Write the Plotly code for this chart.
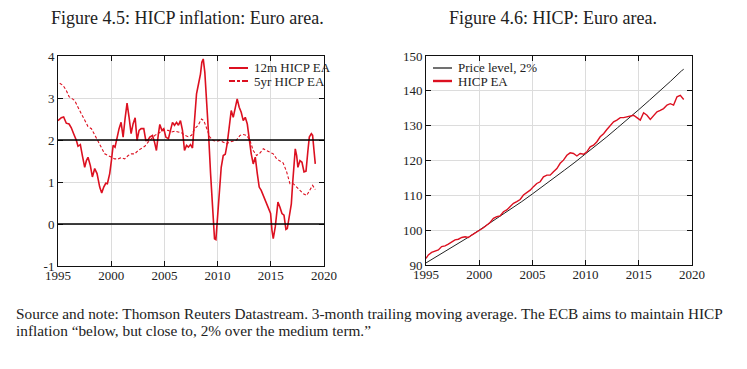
import plotly.graph_objects as go

# ---- Figure 4.5 data: HICP inflation, euro area (%) ----
yr_12m = [1995.00,1995.31,1995.53,1995.78,1996.04,1996.25,1996.47,1996.73,1996.88,1997.10,
          1997.29,1997.51,1997.67,1997.82,1998.04,1998.23,1998.45,1998.67,1998.92,1999.11,
          1999.30,1999.49,1999.64,1999.86,2000.02,2000.18,2000.36,2000.55,2000.74,2000.93,
          2001.12,2001.30,2001.49,2001.68,2001.87,2002.06,2002.25,2002.43,2002.62,2002.81,
          2003.06,2003.25,2003.44,2003.63,2003.88,2004.07,2004.25,2004.44,2004.57,2004.76,
          2004.94,2005.13,2005.38,2005.57,2005.76,2005.95,2006.14,2006.32,2006.51,2006.70,
          2006.89,2007.08,2007.26,2007.45,2007.64,2007.83,2008.02,2008.21,2008.39,2008.52,
          2008.65,2008.80,2008.96,2009.15,2009.34,2009.52,2009.71,2009.84,2009.99,2010.15,
          2010.34,2010.53,2010.72,2010.90,2011.09,2011.28,2011.47,2011.66,2011.84,2012.03,
          2012.22,2012.41,2012.60,2012.79,2012.97,2013.16,2013.35,2013.54,2013.73,2013.91,
          2014.10,2014.29,2014.48,2014.67,2014.86,2014.98,2015.11,2015.23,2015.42,2015.55,
          2015.67,2015.86,2016.05,2016.24,2016.42,2016.55,2016.74,2016.93,2017.05,2017.18,
          2017.30,2017.43,2017.55,2017.74,2017.93,2018.12,2018.31,2018.49,2018.62,2018.81,
          2018.93,2019.06,2019.18]
hicp_12m = [2.46,2.53,2.55,2.40,2.38,2.29,2.15,1.99,1.85,1.89,
            1.63,1.35,1.51,1.59,1.39,1.12,1.32,1.20,0.88,0.74,
            0.88,0.97,0.96,1.20,1.51,1.87,1.83,2.07,2.27,2.42,
            2.07,2.50,2.88,2.54,2.15,2.39,2.53,1.99,2.23,2.27,
            2.27,1.99,1.99,2.07,2.11,1.95,1.75,2.15,2.37,2.23,
            2.27,2.07,2.03,2.23,2.42,2.35,2.42,2.35,2.46,2.23,
            1.75,1.87,1.83,1.89,1.81,2.46,3.10,3.34,3.57,3.85,
            3.93,3.61,3.02,2.15,1.20,0.40,-0.35,-0.37,0.17,0.80,
            1.35,1.63,1.66,1.91,2.27,2.70,2.54,2.78,2.98,2.78,
            2.66,2.46,2.54,2.38,1.99,1.67,1.43,1.59,1.20,0.88,
            0.80,0.68,0.56,0.44,0.32,0.25,-0.15,-0.35,-0.07,0.32,
            0.52,0.40,0.25,0.21,-0.13,-0.11,0.17,0.48,0.96,1.51,
            1.79,1.63,1.35,1.51,1.47,1.24,1.26,1.75,2.07,2.15,
            2.11,1.75,1.43]

yr_5y = [1995.16,1995.47,1995.78,1996.04,1996.35,1996.57,1996.88,1997.20,1997.51,1997.82,
         1998.14,1998.45,1998.76,1999.08,1999.39,1999.71,2000.02,2000.33,2000.65,2000.96,
         2001.27,2001.59,2001.90,2002.21,2002.53,2002.84,2003.16,2003.47,2003.78,2004.10,
         2004.41,2004.72,2005.04,2005.35,2005.66,2005.98,2006.29,2006.61,2006.92,2007.23,
         2007.55,2007.86,2008.17,2008.49,2008.71,2008.96,2009.27,2009.59,2009.90,2010.21,
         2010.53,2010.84,2011.15,2011.47,2011.78,2012.10,2012.41,2012.72,2013.04,2013.35,
         2013.66,2013.98,2014.29,2014.60,2014.92,2015.23,2015.55,2015.86,2016.17,2016.49,
         2016.80,2017.11,2017.43,2017.74,2018.06,2018.37,2018.68,2018.93,2019.18]
hicp_5y = [3.35,3.30,3.18,3.03,2.98,2.94,2.78,2.61,2.46,2.32,
           2.27,2.13,1.99,1.81,1.67,1.63,1.59,1.55,1.55,1.58,
           1.55,1.63,1.67,1.67,1.75,1.79,1.85,1.95,2.03,2.11,
           2.15,2.21,2.24,2.23,2.19,2.21,2.19,2.17,2.11,2.08,
           2.11,2.27,2.35,2.50,2.46,2.27,2.07,1.99,1.97,1.99,
           1.95,1.91,1.95,1.97,2.00,2.11,2.13,2.11,1.99,1.75,
           1.63,1.69,1.79,1.75,1.71,1.67,1.55,1.50,1.45,1.24,
           0.96,0.96,0.88,0.78,0.72,0.68,0.80,0.92,0.82]

# ---- Figure 4.6 data: HICP index level ----
yr_price = [1995,1996,1997,1998,1999,2000,2001,2002,2003,2004,2005,2006,2007,
            2008,2009,2010,2011,2012,2013,2014,2015,2016,2017,2018,2019,2019.22]
price_2pct = [90.6,92.4,94.2,96.1,98.0,100.0,102.0,104.0,106.1,108.2,110.4,112.6,114.9,
              117.2,119.5,121.9,124.3,126.8,129.4,131.9,134.6,137.3,140.0,142.8,145.7,146.2]

yr_hicp = [1995.00,1995.22,1995.53,1995.85,1996.16,1996.47,1996.79,1997.10,1997.42,1997.73,
           1998.04,1998.36,1998.67,1998.98,1999.30,1999.61,1999.99,2000.40,2000.71,2001.02,
           2001.34,2001.65,2001.96,2002.28,2002.59,2002.90,2003.22,2003.53,2003.85,2004.16,
           2004.47,2004.79,2005.10,2005.41,2005.73,2006.04,2006.36,2006.67,2006.98,2007.30,
           2007.61,2007.92,2008.24,2008.55,2008.86,2009.18,2009.49,2009.81,2010.12,2010.43,
           2010.75,2011.06,2011.37,2011.69,2012.00,2012.31,2012.63,2012.94,2013.26,2013.57,
           2013.88,2014.20,2014.51,2014.82,2015.14,2015.45,2015.77,2016.08,2016.39,2016.71,
           2017.02,2017.33,2017.65,2017.96,2018.27,2018.59,2018.90,2019.06,2019.22]
hicp_ea = [91.9,92.9,93.6,93.9,94.3,95.3,95.5,96.0,96.7,97.2,
           97.4,97.9,98.1,97.9,98.6,99.1,99.9,100.7,101.5,102.2,
           103.4,103.9,104.1,105.3,105.8,106.7,107.7,108.2,108.8,110.1,
           110.7,111.5,112.5,113.4,113.9,115.3,115.8,115.8,116.8,117.7,
           119.2,120.1,121.5,122.2,122.0,121.3,122.0,121.8,122.5,123.9,
           124.4,125.4,126.8,127.7,128.9,130.1,131.1,131.6,132.3,132.3,
           132.5,132.7,133.0,132.3,131.6,133.7,133.0,131.8,133.0,134.0,
           134.4,134.9,135.9,136.3,135.9,138.3,138.7,138.1,137.5]

x_ticks = [1995, 2000, 2005, 2010, 2015, 2020]
y1_ticks = [-1, 0, 1, 2, 3, 4]
y1_labels = ["-1", "0", "1", "2", "3", "4"]
y2_ticks = [90, 100, 110, 120, 130, 140, 150]

RED = "#dc1020"
SERIF = "Liberation Serif, DejaVu Serif, serif"
TXT = "#222222"

# the page body adds an 8px margin, so the figure is sized/placed to compensate
OFF = 8
W, H = 747 - OFF, 369 - OFF


def px(x):
    return (x - OFF) / W


def py(y):
    return 1 - (y - OFF) / H


fig = go.Figure()

fig.add_trace(go.Scatter(x=yr_12m, y=hicp_12m, mode="lines", name="12m HICP EA",
                         line=dict(color=RED, width=1.6), xaxis="x", yaxis="y"))
fig.add_trace(go.Scatter(x=yr_5y, y=hicp_5y, mode="lines", name="5yr HICP EA",
                         line=dict(color=RED, width=1.1, dash="3px,2px"), xaxis="x", yaxis="y"))
fig.add_trace(go.Scatter(x=yr_price, y=price_2pct, mode="lines", name="Price level, 2%",
                         line=dict(color="#222222", width=1), xaxis="x2", yaxis="y2"))
fig.add_trace(go.Scatter(x=yr_hicp, y=hicp_ea, mode="lines", name="HICP EA",
                         line=dict(color=RED, width=1.4), xaxis="x2", yaxis="y2"))

axis_common = dict(showline=True, linecolor="#111111", linewidth=1, mirror="ticks",
                   ticks="inside", ticklen=5, tickcolor="#111111", automargin=False,
                   showgrid=True, gridcolor="#dcdcdc", gridwidth=1, zeroline=False,
                   tickfont=dict(family=SERIF, size=13, color=TXT))
xaxis_extra = dict(ticklabelstandoff=-3)

fig.update_layout(
    width=W, height=H, margin=dict(l=0, r=0, t=0, b=0, autoexpand=False),
    paper_bgcolor="white", plot_bgcolor="white",
    showlegend=False,
    xaxis=dict(domain=[px(58), px(324)], range=[1995, 2020], tickvals=x_ticks, anchor="y",
               **axis_common, **xaxis_extra),
    yaxis=dict(domain=[py(266), py(56)], range=[-1, 4], tickvals=y1_ticks, ticktext=y1_labels,
               anchor="x", **axis_common),
    xaxis2=dict(domain=[px(426), px(692)], range=[1995, 2020], tickvals=x_ticks, anchor="y2",
                **axis_common, **xaxis_extra),
    yaxis2=dict(domain=[py(265), py(56)], range=[90, 150],
                tickvals=y2_ticks, anchor="x2", **axis_common),
)

# reference lines at 0 and 2 in Figure 4.5
for yv in (0, 2):
    fig.add_shape(type="line", xref="x domain", yref="y", x0=0, x1=1, y0=yv, y1=yv,
                  line=dict(color="#000000", width=1.3))

# legends (drawn as keys + labels inside each panel)
legend_items = [
    (229, 248, 68, RED, 2.0, "solid", "12m HICP EA"),
    (229, 248, 81, RED, 2.0, "6px,2px,3px,2px", "5yr HICP EA"),
    (433, 452, 68, "#111111", 1.2, "solid", "Price level, 2%"),
    (433, 452, 81, RED, 2.4, "solid", "HICP EA"),
]
for x0, x1, yy, col, wd, ds, label in legend_items:
    fig.add_shape(type="line", xref="paper", yref="paper", x0=px(x0), x1=px(x1), y0=py(yy), y1=py(yy),
                  line=dict(color=col, width=wd, dash=ds))
    fig.add_annotation(text=label, x=px(x1 + 4), y=py(yy), xref="paper", yref="paper",
                       showarrow=False, xanchor="left", yanchor="middle",
                       font=dict(family=SERIF, size=13, color=TXT))

fig.add_annotation(text="Figure 4.5: HICP inflation: Euro area.", x=px(187), y=py(18),
                   xref="paper", yref="paper", showarrow=False, xanchor="center", yanchor="middle",
                   font=dict(family=SERIF, size=18, color=TXT))
fig.add_annotation(text="Figure 4.6: HICP: Euro area.", x=px(553), y=py(18),
                   xref="paper", yref="paper", showarrow=False, xanchor="center", yanchor="middle",
                   font=dict(family=SERIF, size=18, color=TXT))
fig.add_annotation(text="Source and note: Thomson Reuters Datastream. 3-month trailing moving average. "
                        "The ECB aims to maintain HICP",
                   x=px(14), y=py(313), xref="paper", yref="paper", showarrow=False,
                   xanchor="left", yanchor="middle", font=dict(family=SERIF, size=15.3, color=TXT))
fig.add_annotation(text="inflation \u201cbelow, but close to, 2% over the medium term.\u201d",
                   x=px(14), y=py(330), xref="paper", yref="paper", showarrow=False,
                   xanchor="left", yanchor="middle", font=dict(family=SERIF, size=15.3, color=TXT))

fig.write_html("out.html")
